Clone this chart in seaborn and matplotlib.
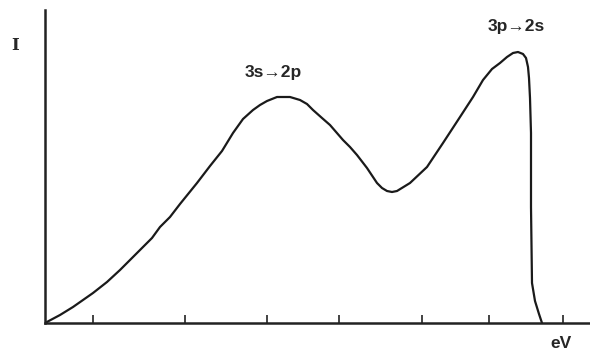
import numpy as np
import pandas as pd
import seaborn as sns
import matplotlib.pyplot as plt

# Spectrum (energy and intensity in arbitrary units)
energy = [0, 15, 28, 48, 62, 75, 95, 107, 115, 125, 135, 152, 165, 177, 188, 198,
          208, 215, 222, 232, 245, 255, 262, 268, 277, 285, 298, 305, 312, 322, 332,
          337, 342, 347, 352, 365, 382, 398, 415, 428, 438, 447, 455, 462, 468, 473,
          478, 481, 483, 484, 485, 486, 486, 487, 490, 494, 497]
intensity = [0, 8, 16, 30, 41, 53, 73, 85, 96, 106, 119, 140, 157, 172, 190, 204,
             213, 218, 222, 226, 226, 223, 219, 213, 205, 198, 183, 176, 168, 155, 140,
             135, 132, 131, 132, 140, 156, 180, 206, 226, 243, 254, 260, 266, 270, 271,
             269, 265, 256, 245, 225, 190, 116, 40, 22, 9, 0]
tick_pos = [48, 140, 222, 294, 377, 444, 518]

df = pd.DataFrame({'eV': energy, 'I': intensity})

sns.set_style('white')
plt.rcParams['font.family'] = ['Liberation Sans', 'DejaVu Sans']

fig = plt.figure(figsize=(5.9, 3.51), dpi=100)
ax = fig.add_axes([45 / 590, 28 / 351, 545 / 590, 313 / 351])

sns.lineplot(data=df, x='eV', y='I', sort=False, estimator=None,
             color='#1a1a1a', linewidth=1.6, ax=ax)

ax.set_xlim(0, 545)
ax.set_ylim(0, 313)
ax.set_xticks(tick_pos)
ax.set_xticklabels([])
ax.set_yticks([])
ax.tick_params(axis='x', direction='in', length=6, width=1.2, color='#222222', bottom=True)
ax.set_xlabel('')
ax.set_ylabel('')
for side in ['top', 'right']:
    ax.spines[side].set_visible(False)
for side in ['left', 'bottom']:
    ax.spines[side].set_color('#222222')
    ax.spines[side].set_linewidth(1.8)

ax.text(228, 251, '3s\u21922p', ha='center', va='center', fontsize=12.5, fontweight='bold')
ax.text(471, 296, '3p\u21922s', ha='center', va='center', fontsize=12.5, fontweight='bold')

fig.text(15 / 590, 1 - 45 / 351, 'I', ha='center', va='center', fontsize=12,
         fontweight='bold', family=['DejaVu Serif'])
fig.text(561 / 590, 1 - 343 / 351, 'eV', ha='center', va='center', fontsize=12.5,
         fontweight='bold')

fig.savefig('out.png', dpi=100)
